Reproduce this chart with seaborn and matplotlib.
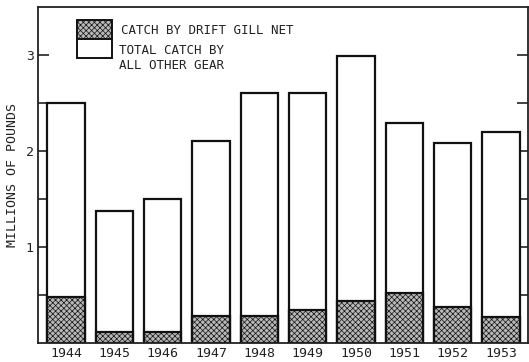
import numpy as np
import pandas as pd
import matplotlib
matplotlib.use("Agg")
import matplotlib.pyplot as plt
import seaborn as sns
from matplotlib.patches import Rectangle

# Data (millions of pounds)
years = ['1944', '1945', '1946', '1947', '1948', '1949', '1950', '1951', '1952', '1953']
total_catch = [2.50, 1.37, 1.50, 2.10, 2.60, 2.60, 2.99, 2.29, 2.08, 2.20]
drift_gill_net = [0.48, 0.11, 0.11, 0.28, 0.28, 0.34, 0.44, 0.52, 0.37, 0.27]

df = pd.DataFrame({'year': years, 'total': total_catch, 'drift': drift_gill_net})

sns.set_style("ticks")
plt.rcParams['font.family'] = ['DejaVu Sans Mono', 'DejaVu Sans']
plt.rcParams['hatch.linewidth'] = 0.5
plt.rcParams['text.color'] = '#222222'

STIPPLE = '#b8b8b8'

fig = plt.figure(figsize=(5.29, 3.62), dpi=100)
ax = fig.add_axes([38 / 529, 1 - 343 / 362, 490 / 529, 336 / 362])

# total catch bars (white), drift gill net overlay (stippled)
sns.barplot(data=df, x='year', y='total', color='white', edgecolor='#111111',
            linewidth=1.6, width=0.77, saturation=1, ax=ax)
sns.barplot(data=df, x='year', y='drift', color=STIPPLE, edgecolor='#111111',
            linewidth=1.6, width=0.77, saturation=1, hatch='xxxxxx', ax=ax)

ax.set_ylim(0, 3.5)
ax.set_xlim(-0.58, 9.56)
ax.set_yticks([1, 2, 3])
ax.set_yticks([0.5, 1.5, 2.5], minor=True)
ax.tick_params(axis='y', which='both', direction='in', length=8, width=1.2,
               labelsize=9.5, right=True, color='#222222', pad=3, labelcolor='#222222')
ax.tick_params(axis='x', length=0, labelsize=9.5, pad=3, labelcolor='#222222')
ax.set_xlabel('')
ax.set_ylabel('MILLIONS OF POUNDS', fontsize=9.5, labelpad=5, color='#222222')
for s in ax.spines.values():
    s.set_linewidth(1.3)
    s.set_color('#222222')

# legend drawn as boxes in the upper left
ax.add_patch(Rectangle((0.080, 0.905), 0.071, 0.056, transform=ax.transAxes,
                       facecolor=STIPPLE, edgecolor='#111111', hatch='xxxxxx', linewidth=1.4))
ax.add_patch(Rectangle((0.080, 0.848), 0.071, 0.057, transform=ax.transAxes,
                       facecolor='white', edgecolor='#111111', linewidth=1.4))
ax.text(0.169, 0.929, 'CATCH BY DRIFT GILL NET', transform=ax.transAxes,
        fontsize=9, va='center', ha='left')
ax.text(0.166, 0.848, 'TOTAL CATCH BY\nALL OTHER GEAR', transform=ax.transAxes,
        fontsize=9, va='center', ha='left', linespacing=1.25)

fig.savefig('out.png', dpi=100)
